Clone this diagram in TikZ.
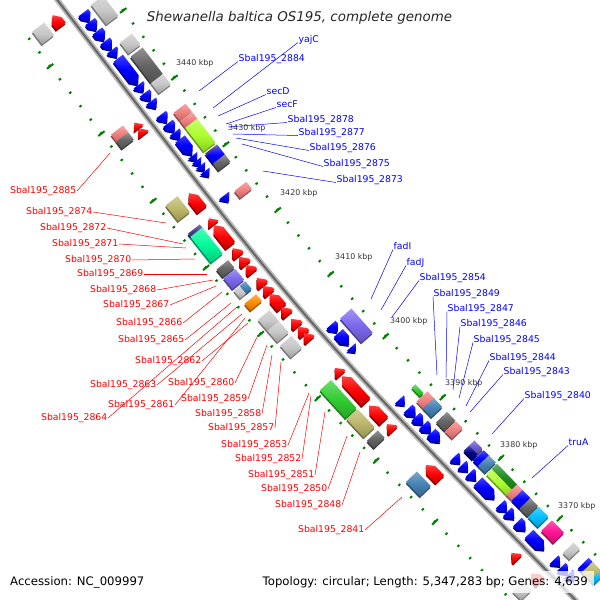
\documentclass[tikz,border=0pt]{standalone}
\usepackage{fontspec}
\setmainfont{DejaVu Sans}
\usetikzlibrary{decorations.markings}
\definecolor{tickgreen}{RGB}{0,128,0}
\definecolor{ltgray}{RGB}{200,200,200}
\definecolor{dkgray}{RGB}{100,100,100}
\definecolor{cogpink}{RGB}{240,128,128}
\definecolor{coglime}{RGB}{173,255,47}
\definecolor{cogslate}{RGB}{106,90,205}
\definecolor{cogmslate}{RGB}{123,104,238}
\definecolor{cogdslate}{RGB}{72,61,139}
\definecolor{cogolive}{RGB}{189,183,107}
\definecolor{cogmint}{RGB}{0,250,154}
\definecolor{cogsteel}{RGB}{70,130,180}
\definecolor{cogorange}{RGB}{255,140,0}
\definecolor{coggreen}{RGB}{50,205,50}
\definecolor{cognavy}{RGB}{0,0,139}
\definecolor{cogforest}{RGB}{34,139,34}
\definecolor{cogsky}{RGB}{0,191,255}
\definecolor{cogdpink}{RGB}{255,20,147}
\definecolor{cogblue}{RGB}{0,0,255}
\newcommand{\genefont}{\fontsize{9.3}{11}\selectfont}
\newcommand{\kbpfont}{\fontsize{7.9}{9}\selectfont}
\newcommand{\infofont}{\fontsize{11.7}{14}\selectfont}
\newcommand{\titlefont}{\fontsize{13.4}{16}\selectfont\itshape}
% features, drawn in the frame of a mark on the backbone
\newcommand{\fcdspath}[1]{(0,7pt) -- ({max(#1-7,0)},7pt) -- (#1,13pt) -- ({max(#1-7,0)},19pt) -- (0,19pt) -- cycle}
\newcommand{\rcdspath}[1]{(#1,-7pt) -- ({min(7,#1)},-7pt) -- (0,-13pt) -- ({min(7,#1)},-19pt) -- (#1,-19pt) -- cycle}
\newcommand{\fcds}[1]{\fill[blue!55!black,shift={(1.2pt,-1.6pt)}] \fcdspath{#1};
  \shade[top color=blue!75!white,bottom color=blue!80!black,middle color=blue] \fcdspath{#1};}
\newcommand{\rcds}[1]{\fill[red!55!black,shift={(1.2pt,-1.6pt)}] \rcdspath{#1};
  \shade[top color=red!75!white,bottom color=red!75!black,middle color=red] \rcdspath{#1};}
\newcommand{\cogbox}[4]{\fill[#4!60!black,shift={(1.2pt,-1.6pt)}] (0,#2pt) rectangle (#1,#3pt);
  \shade[top color=#4!70!white,bottom color=#4!80!black,middle color=#4] (0,#2pt) rectangle (#1,#3pt);}
\newcommand{\fcog}[2]{\cogbox{#1}{24}{39}{#2}}
\newcommand{\rcog}[2]{\cogbox{#1}{-39}{-24}{#2}}

\begin{document}
\begin{tikzpicture}[x=1pt,y=-1pt,
  blbl/.style={text=blue,font=\genefont,anchor=west,inner sep=0.5pt,text height=7pt,text depth=2pt},
  rlbl/.style={text=red,font=\genefont,anchor=east,inner sep=0.5pt,text height=7pt,text depth=2pt},
  blead/.style={blue,line width=0.5pt},
  rlead/.style={red,line width=0.5pt},
  kbp/.style={text=black!80,font=\kbpfont,anchor=west,inner sep=0pt},
  infobox/.style={fill=white,fill opacity=0.75,text opacity=1,inner xsep=6pt,inner ysep=5pt,font=\infofont}]
\useasboundingbox (0,0) rectangle (600,600);
\clip (0,0) rectangle (600,600);
\coordinate (bbA0) at (45,-16);
\coordinate (bbA) at (57.6,0.3);
\coordinate (bbP) at (299,317);
\coordinate (bbC) at (576.5,601.2);
\coordinate (bbC1) at (590,615);

% ruler ticks
\path[decorate,decoration={markings,
  mark=between positions 0.0169 and 1 step 0.02126 with {\fill[tickgreen] (-1,44.7pt) rectangle (1,47.3pt); \fill[tickgreen] (-1,-47.3pt) rectangle (1,-44.7pt);},
  mark=between positions 0.0594 and 1 step 0.1063 with {\fill[tickgreen] (-1,42pt) rectangle (1,50pt); \fill[tickgreen] (-1,-50pt) rectangle (1,-42pt);}}]
  (bbA) .. controls (bbP) .. (bbC);

% backbone
\draw[line width=5.5pt,gray!55] (bbA0) -- (bbA) .. controls (bbP) .. (bbC) -- (bbC1);
\draw[line width=2pt,gray!80!black] (bbA0) -- (bbA) .. controls (bbP) .. (bbC) -- (bbC1);

% forward CDS
\path[decorate,decoration={markings,
  mark=at position 0.032 with {\fcds{11}}, mark=at position 0.046 with {\fcds{11}},
  mark=at position 0.061 with {\fcds{12}}, mark=at position 0.077 with {\fcds{11}},
  mark=at position 0.091 with {\fcds{9}}, mark=at position 0.104 with {\fcds{33}},
  mark=at position 0.146 with {\fcds{9}}, mark=at position 0.159 with {\fcds{10}},
  mark=at position 0.172 with {\fcds{9}}, mark=at position 0.193 with {\fcds{10}},
  mark=at position 0.207 with {\fcds{11}}, mark=at position 0.221 with {\fcds{9}},
  mark=at position 0.232 with {\fcds{20}}, mark=at position 0.258 with {\fcds{7}},
  mark=at position 0.266 with {\fcds{7}}, mark=at position 0.274 with {\fcds{7}},
  mark=at position 0.283 with {\fcds{7}}, mark=at position 0.322 with {\fcds{8}},
  mark=at position 0.534 with {\fcds{10}}, mark=at position 0.548 with {\fcds{16}},
  mark=at position 0.572 with {\fcds{7}}, mark=at position 0.662 with {\fcds{8}},
  mark=at position 0.678 with {\fcds{11}}, mark=at position 0.692 with {\fcds{11}},
  mark=at position 0.706 with {\fcds{11}}, mark=at position 0.720 with {\fcds{13}},
  mark=at position 0.762 with {\fcds{9}}, mark=at position 0.776 with {\fcds{9}},
  mark=at position 0.790 with {\fcds{10}}, mark=at position 0.805 with {\fcds{24}},
  mark=at position 0.845 with {\fcds{10}}, mark=at position 0.858 with {\fcds{10}},
  mark=at position 0.876 with {\fcds{12}}, mark=at position 0.897 with {\fcds{22}},
  mark=at position 0.942 with {\fcds{9}}, mark=at position 0.955 with {\fcds{10}},
  mark=at position 0.968 with {\fcds{9}}}]
  (bbA) .. controls (bbP) .. (bbC);

% reverse CDS
\path[decorate,decoration={markings,
  mark=at position 0.011 with {\rcds{14}}, mark=at position 0.181 with {\rcds{7}},
  mark=at position 0.190 with {\rcds{8}}, mark=at position 0.293 with {\rcds{21}},
  mark=at position 0.333 with {\rcds{8}}, mark=at position 0.344 with {\rcds{26}},
  mark=at position 0.381 with {\rcds{10}}, mark=at position 0.395 with {\rcds{10}},
  mark=at position 0.408 with {\rcds{10}}, mark=at position 0.429 with {\rcds{10}},
  mark=at position 0.442 with {\rcds{10}}, mark=at position 0.455 with {\rcds{18}},
  mark=at position 0.477 with {\rcds{10}}, mark=at position 0.496 with {\rcds{10}},
  mark=at position 0.509 with {\rcds{10}}, mark=at position 0.520 with {\rcds{9}},
  mark=at position 0.578 with {\rcds{9}}, mark=at position 0.592 with {\rcds{35}},
  mark=at position 0.642 with {\rcds{21}}, mark=at position 0.674 with {\rcds{9}},
  mark=at position 0.745 with {\rcds{20}}, mark=at position 0.899 with {\rcds{9}},
  mark=at position 0.935 with {\rcds{13}}}]
  (bbA) .. controls (bbP) .. (bbC);

% forward COG
\path[decorate,decoration={markings,
  mark=at position 0.030 with {\fcog{25}{ltgray}}, mark=at position 0.090 with {\fcog{14}{ltgray}},
  mark=at position 0.112 with {\fcog{33}{dkgray}}, mark=at position 0.154 with {\fcog{13}{ltgray}},
  mark=at position 0.201 with {\fcog{10}{cogpink}}, mark=at position 0.214 with {\fcog{9}{cogpink}},
  mark=at position 0.225 with {\fcog{30}{coglime}}, mark=at position 0.266 with {\fcog{3}{cogdslate}},
  mark=at position 0.269 with {\fcog{11}{cogblue}}, mark=at position 0.282 with {\fcog{9}{dkgray}},
  mark=at position 0.326 with {\fcog{9}{cogpink}}, mark=at position 0.536 with {\fcog{32}{cogmslate}},
  mark=at position 0.662 with {\cogbox{12}{30}{35}{coggreen}}, mark=at position 0.679 with {\fcog{11}{cogpink}},
  mark=at position 0.691 with {\fcog{12}{cogsteel}}, mark=at position 0.715 with {\fcog{12}{dkgray}},
  mark=at position 0.731 with {\fcog{10}{cogpink}}, mark=at position 0.765 with {\cogbox{12}{31.5}{39}{cogslate}},
  mark=at position 0.765 with {\cogbox{12}{24}{31.5}{cognavy}}, mark=at position 0.782 with {\fcog{9}{cogblue}},
  mark=at position 0.791 with {\fcog{10}{cogsteel}}, mark=at position 0.806 with {\cogbox{30}{31.5}{39}{cogforest}},
  mark=at position 0.806 with {\cogbox{30}{24}{31.5}{coglime}}, mark=at position 0.842 with {\fcog{9}{cogpink}},
  mark=at position 0.852 with {\fcog{11}{cogblue}}, mark=at position 0.866 with {\fcog{11}{dkgray}},
  mark=at position 0.881 with {\fcog{14}{cogsky}}, mark=at position 0.905 with {\fcog{17}{cogdpink}},
  mark=at position 0.944 with {\fcog{9}{ltgray}}, mark=at position 0.971 with {\fcog{8}{cogblue}},
  mark=at position 0.978 with {\fcog{12}{cogolive}}, mark=at position 0.993 with {\fcog{5}{cogsky}}}]
  (bbA) .. controls (bbP) .. (bbC);

% reverse COG
\path[decorate,decoration={markings,
  mark=at position 0.012 with {\rcog{16}{ltgray}}, mark=at position 0.175 with {\rcog{9}{cogpink}},
  mark=at position 0.186 with {\rcog{9}{dkgray}}, mark=at position 0.287 with {\rcog{20}{cogolive}},
  mark=at position 0.332 with {\rcog{5}{cogdslate}}, mark=at position 0.337 with {\rcog{33}{cogmint}},
  mark=at position 0.389 with {\rcog{10}{dkgray}}, mark=at position 0.403 with {\rcog{14}{cogmslate}},
  mark=at position 0.423 with {\cogbox{10}{-31.5}{-24}{cogsteel}}, mark=at position 0.423 with {\cogbox{10}{-39}{-31.5}{ltgray}},
  mark=at position 0.444 with {\rcog{9}{cogorange}}, mark=at position 0.470 with {\rcog{15}{ltgray}},
  mark=at position 0.488 with {\rcog{15}{ltgray}}, mark=at position 0.512 with {\rcog{16}{ltgray}},
  mark=at position 0.586 with {\rcog{38}{coggreen}}, mark=at position 0.635 with {\rcog{25}{cogolive}},
  mark=at position 0.672 with {\rcog{10}{dkgray}}, mark=at position 0.743 with {\rcog{20}{cogsteel}},
  mark=at position 0.935 with {\rcog{12}{ltgray}}}]
  (bbA) .. controls (bbP) .. (bbC);

% ruler labels
\node[kbp] (k3440) at (176,63) {3440 kbp};
\node[kbp] (k3430) at (228,128) {3430 kbp};
\node[kbp] (k3420) at (280,193) {3420 kbp};
\node[kbp] (k3410) at (335,257) {3410 kbp};
\node[kbp] (k3400) at (390,321) {3400 kbp};
\node[kbp] (k3390) at (445,383) {3390 kbp};
\node[kbp] (k3380) at (500,445) {3380 kbp};
\node[kbp] (k3370) at (558,506) {3370 kbp};

% forward labels
\node[blbl] (lyajC) at (298,40) {yajC}; \coordinate (eyajC) at (213,108); \draw[blead] (lyajC.base west) -- (eyajC);
\node[blbl] (l2884) at (238,59) {Sbal195\_2884}; \coordinate (e2884) at (199,91); \draw[blead] (l2884.base west) -- (e2884);
\node[blbl] (lsecD) at (266,92) {secD}; \coordinate (esecD) at (218,116); \draw[blead] (lsecD.base west) -- (esecD);
\node[blbl] (lsecF) at (276,105) {secF}; \coordinate (esecF) at (226,124); \draw[blead] (lsecF.base west) -- (esecF);
\node[blbl] (l2878) at (287,120) {Sbal195\_2878}; \coordinate (e2878) at (228,127); \draw[blead] (l2878.base west) -- (e2878);
\node[blbl] (l2877) at (298,133) {Sbal195\_2877}; \coordinate (e2877) at (233,134); \draw[blead] (l2877.base west) -- (e2877);
\node[blbl] (l2876) at (309,148) {Sbal195\_2876}; \coordinate (e2876) at (236,138); \draw[blead] (l2876.base west) -- (e2876);
\node[blbl] (l2875) at (323,164) {Sbal195\_2875}; \coordinate (e2875) at (242,144); \draw[blead] (l2875.base west) -- (e2875);
\node[blbl] (l2873) at (336,180) {Sbal195\_2873}; \coordinate (e2873) at (263,171); \draw[blead] (l2873.base west) -- (e2873);
\node[blbl] (lfadI) at (393,247) {fadI}; \coordinate (efadI) at (371,299); \draw[blead] (lfadI.base west) -- (efadI);
\node[blbl] (lfadJ) at (406,263) {fadJ}; \coordinate (efadJ) at (381,310); \draw[blead] (lfadJ.base west) -- (efadJ);
\node[blbl] (l2854) at (419,278) {Sbal195\_2854}; \coordinate (e2854) at (392,317); \draw[blead] (l2854.base west) -- (e2854);
\node[blbl] (l2849) at (433,294) {Sbal195\_2849}; \coordinate (e2849) at (437,375); \draw[blead] (l2849.base west) -- (e2849);
\node[blbl] (l2847) at (447,309) {Sbal195\_2847}; \coordinate (e2847) at (446,378); \draw[blead] (l2847.base west) -- (e2847);
\node[blbl] (l2846) at (460,324) {Sbal195\_2846}; \coordinate (e2846) at (453,390); \draw[blead] (l2846.base west) -- (e2846);
\node[blbl] (l2845) at (473,340) {Sbal195\_2845}; \coordinate (e2845) at (459,398); \draw[blead] (l2845.base west) -- (e2845);
\node[blbl] (l2844) at (489,358) {Sbal195\_2844}; \coordinate (e2844) at (466,406); \draw[blead] (l2844.base west) -- (e2844);
\node[blbl] (l2843) at (503,372) {Sbal195\_2843}; \coordinate (e2843) at (470,412); \draw[blead] (l2843.base west) -- (e2843);
\node[blbl] (l2840) at (524,396) {Sbal195\_2840}; \coordinate (e2840) at (492,434); \draw[blead] (l2840.base west) -- (e2840);
\node[blbl] (ltruA) at (568,443) {truA}; \coordinate (etruA) at (532,478); \draw[blead] (ltruA.base west) -- (etruA);

% reverse labels
\node[rlbl] (l2885) at (77,191) {Sbal195\_2885}; \coordinate (e2885) at (110,153); \draw[rlead] (l2885.east) -- (e2885);
\node[rlbl] (l2874) at (93,212) {Sbal195\_2874}; \coordinate (e2874) at (166,223); \draw[rlead] (l2874.east) -- (e2874);
\node[rlbl] (l2872) at (107,228) {Sbal195\_2872}; \coordinate (e2872) at (183,244); \draw[rlead] (l2872.east) -- (e2872);
\node[rlbl] (l2871) at (119,244) {Sbal195\_2871}; \coordinate (e2871) at (186,248); \draw[rlead] (l2871.east) -- (e2871);
\node[rlbl] (l2870) at (132,260) {Sbal195\_2870}; \coordinate (e2870) at (195,259); \draw[rlead] (l2870.east) -- (e2870);
\node[rlbl] (l2869) at (144,274) {Sbal195\_2869}; \coordinate (e2869) at (207,274); \draw[rlead] (l2869.east) -- (e2869);
\node[rlbl] (l2868) at (157,290) {Sbal195\_2868}; \coordinate (e2868) at (213,280); \draw[rlead] (l2868.east) -- (e2868);
\node[rlbl] (l2867) at (170,305) {Sbal195\_2867}; \coordinate (e2867) at (216,286); \draw[rlead] (l2867.east) -- (e2867);
\node[rlbl] (l2866) at (183,323) {Sbal195\_2866}; \coordinate (e2866) at (222,292); \draw[rlead] (l2866.east) -- (e2866);
\node[rlbl] (l2865) at (185,340) {Sbal195\_2865}; \coordinate (e2865) at (231,303); \draw[rlead] (l2865.east) -- (e2865);
\node[rlbl] (l2862) at (202,361) {Sbal195\_2862}; \coordinate (e2862) at (248,323); \draw[rlead] (l2862.east) -- (e2862);
\node[rlbl] (l2863) at (157,385) {Sbal195\_2863}; \coordinate (e2863) at (242,314); \draw[rlead] (l2863.east) -- (e2863);
\node[rlbl] (l2860) at (235,383) {Sbal195\_2860}; \coordinate (e2860) at (258,335); \draw[rlead] (l2860.east) -- (e2860);
\node[rlbl] (l2861) at (175,405) {Sbal195\_2861}; \coordinate (e2861) at (245,318); \draw[rlead] (l2861.east) -- (e2861);
\node[rlbl] (l2859) at (248,399) {Sbal195\_2859}; \coordinate (e2859) at (267,345); \draw[rlead] (l2859.east) -- (e2859);
\node[rlbl] (l2858) at (262,414) {Sbal195\_2858}; \coordinate (e2858) at (272,355); \draw[rlead] (l2858.east) -- (e2858);
\node[rlbl] (l2864) at (108,418) {Sbal195\_2864}; \coordinate (e2864) at (237,307); \draw[rlead] (l2864.east) -- (e2864);
\node[rlbl] (l2857) at (275,428) {Sbal195\_2857}; \coordinate (e2857) at (281,362); \draw[rlead] (l2857.east) -- (e2857);
\node[rlbl] (l2853) at (288,445) {Sbal195\_2853}; \coordinate (e2853) at (309,393); \draw[rlead] (l2853.east) -- (e2853);
\node[rlbl] (l2852) at (302,459) {Sbal195\_2852}; \coordinate (e2852) at (311,396); \draw[rlead] (l2852.east) -- (e2852);
\node[rlbl] (l2851) at (315,475) {Sbal195\_2851}; \coordinate (e2851) at (325,412); \draw[rlead] (l2851.east) -- (e2851);
\node[rlbl] (l2850) at (328,489) {Sbal195\_2850}; \coordinate (e2850) at (347,436); \draw[rlead] (l2850.east) -- (e2850);
\node[rlbl] (l2848) at (342,505) {Sbal195\_2848}; \coordinate (e2848) at (360,452); \draw[rlead] (l2848.east) -- (e2848);
\node[rlbl] (l2841) at (365,530) {Sbal195\_2841}; \coordinate (e2841) at (402,497); \draw[rlead] (l2841.east) -- (e2841);

% title and legend
\node[font=\titlefont,text=black!85] (title) at (299.5,18) {Shewanella baltica OS195, complete genome};
\node[infobox,anchor=west] (acc) at (4,582) {Accession: NC\_009997};
\node[infobox,anchor=east] (topo) at (594,582) {Topology: circular; Length: 5,347,283 bp; Genes: 4,639};
\end{tikzpicture}
\end{document}
